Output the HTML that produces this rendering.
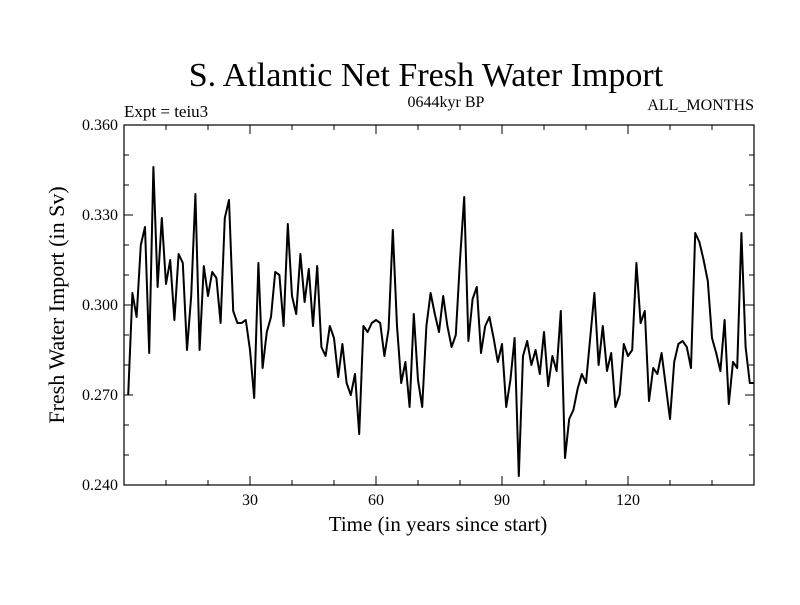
<!DOCTYPE html>
<html><head><meta charset="utf-8"><style>
body{margin:0;background:#fff;}
svg text{font-family:"Liberation Serif",serif;fill:#000;}
</style></head><body>
<svg id="chart" width="800" height="600" xmlns="http://www.w3.org/2000/svg">
<text x="426" y="86" font-size="34" text-anchor="middle">S. Atlantic Net Fresh Water Import</text>
<text x="124" y="117" font-size="17">Expt = teiu3</text>
<text x="446" y="107" font-size="16" text-anchor="middle">0644kyr BP</text>
<text x="754" y="110" font-size="16" text-anchor="end">ALL_MONTHS</text>
<text transform="translate(64,305) rotate(-90)" font-size="22" text-anchor="middle">Fresh Water Import (in Sv)</text>
<text x="438" y="531" font-size="21" text-anchor="middle">Time (in years since start)</text>
<rect x="124" y="125" width="630" height="360" fill="none" stroke="#000" stroke-width="1.2"/>
<g id="ticks"></g>
<path id="series" fill="none" stroke="#000" stroke-width="2" stroke-linejoin="round"/>
</svg>
<script>
const years0 = 1;
const values = [0.270,0.304,0.296,0.320,0.326,0.284,0.346,0.306,0.329,0.307,0.315,0.295,0.317,0.314,0.285,0.303,0.337,0.285,0.313,0.303,0.311,0.309,0.294,0.329,0.335,0.298,0.294,0.294,0.295,0.285,0.269,0.314,0.279,0.291,0.296,0.311,0.310,0.293,0.327,0.303,0.297,0.317,0.301,0.312,0.293,0.313,0.286,0.283,0.293,0.289,0.276,
0.287,0.274,0.270,0.277,0.257,0.293,0.291,0.294,0.295,0.294,0.283,0.292,0.325,0.293,0.274,0.281,0.266,0.297,0.275,0.266,0.293,0.304,0.297,0.291,0.303,0.293,0.286,0.290,0.315,0.336,0.288,0.302,0.306,0.284,0.293,0.296,0.289,0.281,0.287,0.266,0.275,0.289,0.243,0.283,0.288,0.280,0.285,0.277,0.291,0.273,
0.283,0.278,0.298,0.249,0.262,0.265,0.272,0.277,0.274,0.289,0.304,0.280,0.293,0.278,0.284,0.266,0.270,0.287,0.283,0.285,0.314,0.294,0.298,0.268,0.279,0.277,0.284,0.273,0.262,0.281,0.287,0.288,0.286,0.279,0.324,0.321,0.315,0.308,0.289,0.284,0.278,0.295,0.267,0.281,0.279,0.324,0.286,0.274,0.274];
const yTicks = [0.240,0.270,0.300,0.330,0.360];
const yTickLabels = ["0.240","0.270","0.300","0.330","0.360"];
const xTicks = [30,60,90,120];
const xTickLabels = ["30","60","90","120"];
const X0=124,X1=754,Y0=485,Y1=125;
const xMin=0,xMax=150,yMin=0.240,yMax=0.360;
function xs(v){return X0+(v-xMin)/(xMax-xMin)*(X1-X0);}
function ys(v){return Y0-(v-yMin)/(yMax-yMin)*(Y0-Y1);}
const NS="http://www.w3.org/2000/svg";
const g=document.getElementById('ticks');
function line(x1,y1,x2,y2,name){const l=document.createElementNS(NS,'line');
l.setAttribute('x1',x1);l.setAttribute('y1',y1);l.setAttribute('x2',x2);l.setAttribute('y2',y2);
l.setAttribute('stroke','#000');l.setAttribute('stroke-width','1');


g.appendChild(l);}
function text(x,y,s,anchor,name){const t=document.createElementNS(NS,'text');
t.setAttribute('x',x);t.setAttribute('y',y);t.setAttribute('font-size','16');t.setAttribute('text-anchor',anchor);t.textContent=s;


g.appendChild(t);}
for(let v=yMin;v<=yMax+1e-9;v+=0.010){const y=ys(v);const major=Math.abs(((v-yMin)/0.03)-Math.round((v-yMin)/0.03))<1e-6;const L=major?9:5;
line(X0,y,X0+L,y,'y-tick');line(X1,y,X1-L,y,'y-tick-right');}
yTicks.forEach((v,i)=>text(X0-6,ys(v)+5,yTickLabels[i],'end','y-tick-label'));
for(let v=10;v<xMax;v+=10){const x=xs(v);const major=v%30===0;const L=major?9:5;
line(x,Y0,x,Y0-L,'x-tick');line(x,Y1,x,Y1+L,'x-tick-top');}
xTicks.forEach((v,i)=>text(xs(v),Y0+20,xTickLabels[i],'middle','x-tick-label'));
let d='';values.forEach((v,i)=>{d+=(i?'L':'M')+xs(years0+i).toFixed(1)+','+ys(v).toFixed(1);});
document.getElementById('series').setAttribute('d',d);
</script>
</body></html>
